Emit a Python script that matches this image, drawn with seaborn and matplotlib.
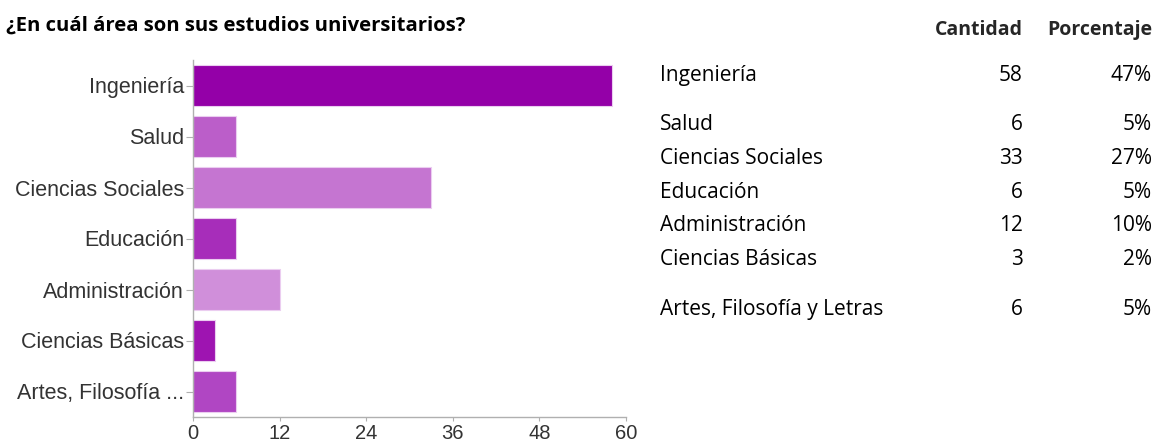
import matplotlib
matplotlib.use("Agg")
import matplotlib.pyplot as plt
import seaborn as sns
import pandas as pd

# ---- data ----
categories = ["Ingeniería", "Salud", "Ciencias Sociales", "Educación",
              "Administración", "Ciencias Básicas", "Artes, Filosofía y Letras"]
axis_labels = ["Ingeniería", "Salud", "Ciencias Sociales", "Educación",
               "Administración", "Ciencias Básicas", "Artes, Filosofía ..."]
counts = [58, 6, 33, 6, 12, 3, 6]
percentages = ["47%", "5%", "27%", "5%", "10%", "2%", "5%"]
x_ticks = [0, 12, 24, 36, 48, 60]
title = "¿En cuál área son sus estudios universitarios?"
col_headers = ["Cantidad", "Porcentaje"]

# ---- styles / layout ----
bar_colors = ["#9400A8", "#BB5EC9", "#C575D1", "#A72DBA",
              "#D08FDA", "#9E14B1", "#B046C3"]
row_baselines = [81, 130, 164, 198, 231, 265, 315]  # px from top

W, H = 1155, 443
sns.set_theme(style="white")
plt.rcParams["font.family"] = ["Liberation Sans", "DejaVu Sans"]

fig = plt.figure(figsize=(W / 100, H / 100), dpi=100)
ax = fig.add_axes([193 / W, 1 - 417 / H, (626 - 193) / W, (417 - 60) / H])

df = pd.DataFrame({"area": axis_labels, "cantidad": counts})
sns.barplot(data=df, x="cantidad", y="area", hue="area", palette=bar_colors,
            order=axis_labels, hue_order=axis_labels, legend=False, saturation=1,
            width=0.79, edgecolor="#EBCDF0", linewidth=0.8, ax=ax, orient="h")

ax.set_xlim(0, 60)
ax.set_ylim(6.5, -0.5)
ax.set_xticks(x_ticks)
ax.set_xlabel("")
ax.set_ylabel("")
for s in ["top", "right"]:
    ax.spines[s].set_visible(False)
for s in ["left", "bottom"]:
    ax.spines[s].set_color("#B0B0B0")
    ax.spines[s].set_linewidth(1.0)
ax.tick_params(axis="y", left=True, length=5, width=0.8, color="#B0B0B0",
               pad=1.5, labelsize=15.5, labelcolor="#333333")
ax.tick_params(axis="x", bottom=True, length=3, width=0.8, color="#B0B0B0",
               pad=2, labelsize=14.5, labelcolor="#333333")
ax.grid(False)

def fy(px):
    return 1 - px / H

# title and table
fig.text(6 / W, fy(31), title, fontsize=14.6, fontweight="bold",
         family=["Open Sans", "DejaVu Sans"], color="#000000", va="baseline", ha="left")
fig.text(1023 / W, fy(35), col_headers[0], fontsize=14, fontweight="bold",
         family=["Open Sans", "DejaVu Sans"], va="baseline", ha="right")
fig.text(1152 / W, fy(35), col_headers[1], fontsize=14, fontweight="bold",
         family=["Open Sans", "DejaVu Sans"], va="baseline", ha="right")

for cat, n, p, yb in zip(categories, counts, percentages, row_baselines):
    fig.text(660 / W, fy(yb), cat, fontsize=15, family=["Open Sans", "DejaVu Sans"],
             va="baseline", ha="left", color="#000000")
    fig.text(1023 / W, fy(yb), str(n), fontsize=15, family=["Open Sans", "DejaVu Sans"],
             va="baseline", ha="right", color="#000000")
    fig.text(1152 / W, fy(yb), p, fontsize=15, family=["Open Sans", "DejaVu Sans"],
             va="baseline", ha="right", color="#000000")

fig.savefig("out.png", dpi=100, facecolor="white")
